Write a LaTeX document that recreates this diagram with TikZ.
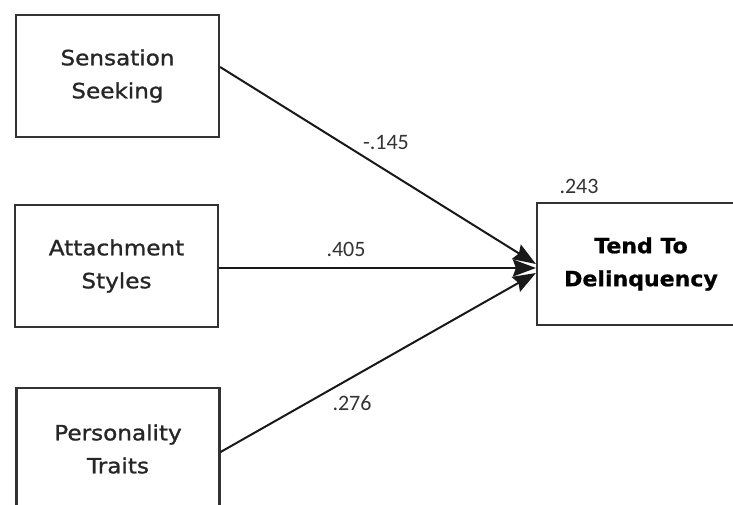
\documentclass[tikz,border=0pt]{standalone}
\usepackage{fontspec}
\usetikzlibrary{arrows.meta}
\newfontfamily\boxfont[FakeStretch=1.1,FakeBold=1.2]{DejaVu Sans}
\newfontfamily\boxbold[FakeStretch=1.05,FakeBold=0.8]{DejaVu Sans Bold}
\newfontfamily\labfont{Carlito}
\begin{document}
\begin{tikzpicture}[x=1pt,y=1pt,
  varbox/.style={draw=black!80,line width=2.2pt,minimum width=203pt,minimum height=122pt,
    align=center,inner sep=0pt,font=\boxfont\fontsize{21}{33}\selectfont,text=black!85},
  path/.style={draw=black!90,line width=2pt,-{Stealth[length=23pt,width=17pt,inset=3pt]}},
  coef/.style={font=\labfont\fontsize{22}{24}\selectfont,text=black!80,inner sep=0pt}]
\useasboundingbox (0,0) rectangle (733,504);
\clip (0,0) rectangle (733,504);
\fill[white] (0,0) rectangle (733,504);
\node[varbox] (ss) at (117.5,428) {Sensation\\Seeking};
\node[varbox] (as) at (116.5,238) {Attachment\\Styles};
\node[varbox] (pt) at (118,55) {Personality\\Traits};
\node[varbox,minimum width=208pt,font=\boxbold\fontsize{21}{33}\selectfont,text=black] (td) at (641,240) {Tend To\\Delinquency};
\draw[path] ([yshift=9pt]ss.east) -- ([yshift=0pt]td.west);
\draw[path] ([yshift=-2pt]as.east) -- ([yshift=-4pt]td.west);
\draw[path] ([yshift=-3pt]pt.east) -- ([yshift=-9pt]td.west);
\node[coef] (c1) at (386,361) {-.145};
\node[coef] (c2) at (346,255) {.405};
\node[coef] (c3) at (352,101) {.276};
\node[coef] (c4) at (579,318) {.243};
\end{tikzpicture}
\end{document}
